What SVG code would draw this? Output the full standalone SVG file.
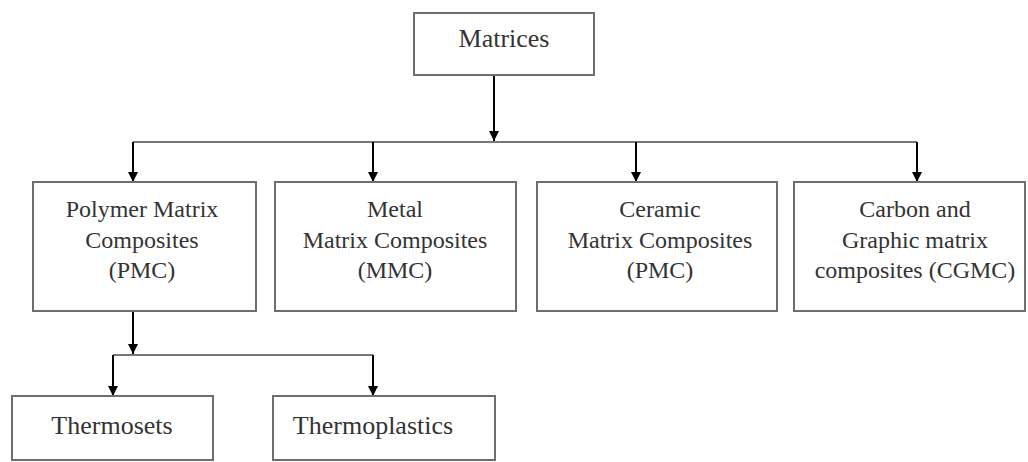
<svg xmlns="http://www.w3.org/2000/svg" width="1028" height="462" viewBox="0 0 1028 462">
<defs>
<marker id="ah" viewBox="0 0 10 10" refX="10" refY="5" markerWidth="10" markerHeight="10" markerUnits="userSpaceOnUse" orient="auto">
<path d="M0,0 L10,5 L0,10 Z" fill="#000"/>
</marker>
<style>
.box{fill:#fff;stroke:#6e6e6e;stroke-width:2}
.t{font-family:"Liberation Serif","Times New Roman",serif;font-size:24px;fill:#333;text-anchor:middle}
.big{font-size:26px}
.line{stroke:#777;stroke-width:2;fill:none}
.arr{stroke:#000;stroke-width:2;fill:none;marker-end:url(#ah)}
</style>
</defs>
<rect width="1028" height="462" fill="#fff"/>
<g id="connectors">
<line class="arr" x1="494" y1="75" x2="494" y2="141"/>
<line class="line" x1="133" y1="142" x2="917" y2="142"/>
<line class="arr" x1="133" y1="142" x2="133" y2="182"/>
<line class="arr" x1="373" y1="142" x2="373" y2="182"/>
<line class="arr" x1="636" y1="142" x2="636" y2="182"/>
<line class="arr" x1="917" y1="142" x2="917" y2="182"/>
<line class="arr" x1="133" y1="311" x2="133" y2="354"/>
<line class="line" x1="113" y1="355" x2="373" y2="355"/>
<line class="arr" x1="113" y1="355" x2="113" y2="396"/>
<line class="arr" x1="373" y1="355" x2="373" y2="396"/>
</g>
<g id="matrices">
<rect class="box" x="414" y="13" width="180" height="62"/>
<text class="t big" x="504" y="47">Matrices</text>
</g>
<g id="pmc">
<rect class="box" x="33" y="182" width="223" height="129"/>
<text class="t" x="142" y="217">Polymer Matrix</text>
<text class="t" x="142" y="248">Composites</text>
<text class="t" x="142" y="278">(PMC)</text>
</g>
<g id="mmc">
<rect class="box" x="275" y="182" width="241" height="129"/>
<text class="t" x="395" y="217">Metal</text>
<text class="t" x="395" y="248">Matrix Composites</text>
<text class="t" x="395" y="278">(MMC)</text>
</g>
<g id="cmc">
<rect class="box" x="537" y="182" width="240" height="129"/>
<text class="t" x="660" y="217">Ceramic</text>
<text class="t" x="660" y="248">Matrix Composites</text>
<text class="t" x="660" y="278">(PMC)</text>
</g>
<g id="cgmc">
<rect class="box" x="794" y="182" width="231" height="129"/>
<text class="t" x="915" y="217">Carbon and</text>
<text class="t" x="915" y="248">Graphic matrix</text>
<text class="t" x="915" y="278">composites (CGMC)</text>
</g>
<g id="thermosets">
<rect class="box" x="12" y="396" width="201" height="64"/>
<text class="t big" x="112" y="434">Thermosets</text>
</g>
<g id="thermoplastics">
<rect class="box" x="273" y="396" width="222" height="64"/>
<text class="t big" x="373" y="434">Thermoplastics</text>
</g>
</svg>
